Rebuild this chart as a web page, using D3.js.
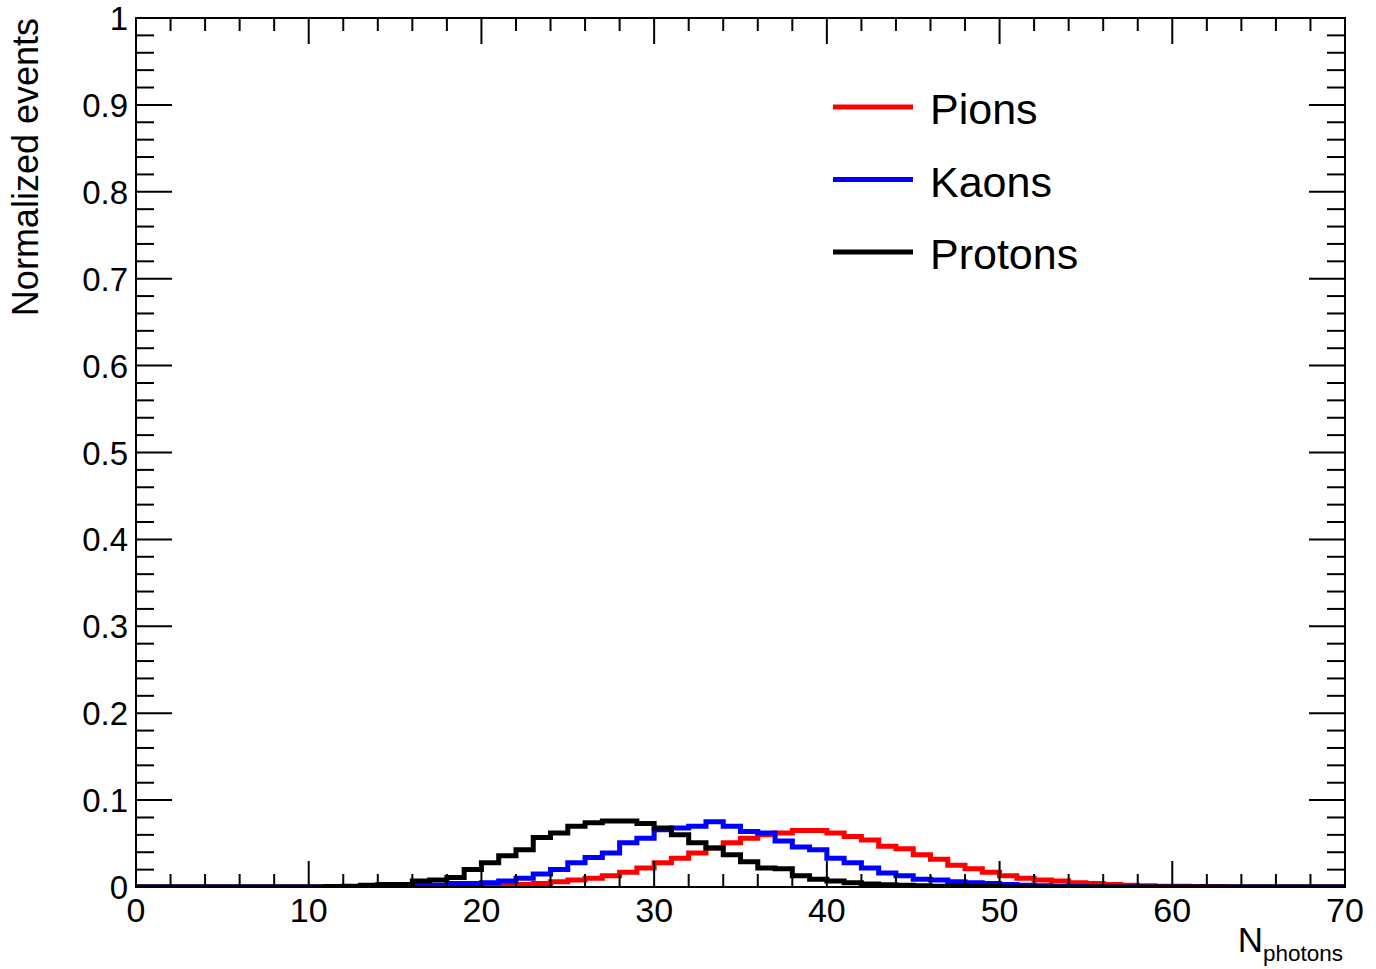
<!DOCTYPE html>
<html>
<head>
<meta charset="utf-8">
<script src="https://cdn.jsdelivr.net/npm/d3@7"></script>
<style>
  body { margin: 0; background: #fff; }
  svg { display: block; }
  text { font-family: "Liberation Sans", Arial, Helvetica, sans-serif; fill: #000; }
</style>
</head>
<body>
<svg id="chart" width="1376" height="969"></svg>
<script>
// bin contents, one value per unit bin from 0 to 70
var pions = [
  0, 0, 0, 0, 0, 0, 0, 0, 0, 0,
  0, 0, 0, 0, 0, 0, 0, 0, 0.0005, 0.001,
  0.001, 0.002, 0.003, 0.004, 0.006, 0.008, 0.010, 0.013, 0.017, 0.022,
  0.028, 0.033, 0.039, 0.045, 0.051, 0.056, 0.060, 0.062, 0.065, 0.065,
  0.062, 0.058, 0.054, 0.047, 0.044, 0.037, 0.032, 0.025, 0.021, 0.017,
  0.013, 0.010, 0.008, 0.007, 0.005, 0.004, 0.003, 0.002, 0.0015, 0.001,
  0.001, 0.0005, 0.0005, 0, 0, 0, 0, 0, 0, 0
];
var kaons = [
  0, 0, 0, 0, 0, 0, 0, 0, 0, 0,
  0, 0, 0, 0, 0.0005, 0.001, 0.002, 0.002, 0.004, 0.004,
  0.005, 0.007, 0.010, 0.015, 0.020, 0.028, 0.034, 0.039, 0.051, 0.056,
  0.066, 0.068, 0.070, 0.075, 0.070, 0.064, 0.062, 0.053, 0.046, 0.043,
  0.033, 0.028, 0.022, 0.016, 0.013, 0.009, 0.008, 0.006, 0.005, 0.004,
  0.003, 0.002, 0.0015, 0.001, 0.0005, 0, 0, 0, 0, 0,
  0, 0, 0, 0, 0, 0, 0, 0, 0, 0
];
var protons = [
  0, 0, 0, 0, 0, 0, 0, 0, 0, 0,
  0, 0.0005, 0.001, 0.002, 0.003, 0.003, 0.007, 0.008, 0.011, 0.020,
  0.028, 0.036, 0.043, 0.057, 0.062, 0.070, 0.074, 0.076, 0.076, 0.073,
  0.068, 0.060, 0.051, 0.045, 0.037, 0.029, 0.022, 0.021, 0.013, 0.009,
  0.007, 0.005, 0.0035, 0.0025, 0.002, 0.0015, 0.001, 0.001, 0.0005, 0.0005,
  0, 0, 0, 0, 0, 0, 0, 0, 0, 0,
  0, 0, 0, 0, 0, 0, 0, 0, 0, 0
];
var seriesNames = ["Pions", "Kaons", "Protons"];
var seriesColors = ["#ff0000", "#0000ff", "#000000"];
var xTickLabels = [0, 10, 20, 30, 40, 50, 60, 70];
var yTickLabels = ["0", "0.1", "0.2", "0.3", "0.4", "0.5", "0.6", "0.7", "0.8", "0.9", "1"];

var svg = d3.select("#chart");
var frame = {left: 136, right: 1345, top: 18, bottom: 887};

var x = d3.scaleLinear().domain([0, 70]).range([frame.left, frame.right]);
var y = d3.scaleLinear().domain([0, 1]).range([frame.bottom, frame.top]);

svg.append("clipPath").attr("id", "frameclip")
   .append("rect")
   .attr("x", frame.left).attr("y", frame.top)
   .attr("width", frame.right - frame.left)
   .attr("height", frame.bottom - frame.top);

// step line for a histogram
var step = d3.line()
             .x(function(d) { return x(d[0]); })
             .y(function(d) { return y(d[1]); })
             .curve(d3.curveStepAfter);

function binPoints(values) {
  var pts = values.map(function(v, i) { return [i, v]; });
  pts.push([values.length, values[values.length - 1]]);
  return pts;
}

var hists = svg.append("g").attr("clip-path", "url(#frameclip)");
[pions, kaons, protons].forEach(function(vals, i) {
  hists.append("path")
       .datum(binPoints(vals))
       .attr("d", step)
       .attr("fill", "none")
       .attr("stroke", seriesColors[i])
       .attr("stroke-width", 5);
});

// frame and ticks (ROOT style, inward on all four sides)
var axes = svg.append("g").attr("stroke", "#000").attr("stroke-width", 2);
axes.append("rect")
    .attr("x", frame.left).attr("y", frame.top)
    .attr("width", frame.right - frame.left)
    .attr("height", frame.bottom - frame.top)
    .attr("fill", "none");

d3.range(0, 70.001, 2).forEach(function(v) {
  var len = (v % 10 === 0) ? 26 : 13;
  axes.append("line").attr("x1", x(v)).attr("x2", x(v))
      .attr("y1", frame.bottom).attr("y2", frame.bottom - len);
  axes.append("line").attr("x1", x(v)).attr("x2", x(v))
      .attr("y1", frame.top).attr("y2", frame.top + len);
});

d3.range(0, 50.5, 1).forEach(function(k) {
  var v = k / 50;
  var len = (k % 5 === 0) ? 36 : 18;
  axes.append("line").attr("y1", y(v)).attr("y2", y(v))
      .attr("x1", frame.left).attr("x2", frame.left + len);
  axes.append("line").attr("y1", y(v)).attr("y2", y(v))
      .attr("x1", frame.right).attr("x2", frame.right - len);
});

// tick labels
svg.selectAll(".xlab")
   .data(xTickLabels)
   .enter().append("text")
   .attr("class", "xlab")
   .attr("x", function(d) { return x(d); })
   .attr("y", 922)
   .attr("text-anchor", "middle")
   .attr("font-size", 34)
   .text(function(d) { return d; });

svg.selectAll(".ylab")
   .data(yTickLabels)
   .enter().append("text")
   .attr("class", "ylab")
   .attr("x", 128)
   .attr("y", function(d) { return y(+d) + 12; })
   .attr("text-anchor", "end")
   .attr("font-size", 33)
   .text(function(d) { return d; });

// axis titles
svg.append("text")
   .attr("transform", "translate(38," + frame.top + ") rotate(-90)")
   .attr("text-anchor", "end")
   .attr("font-size", 36)
   .text("Normalized events");

var xt = svg.append("text")
            .attr("x", frame.right - 2)
            .attr("y", 952)
            .attr("text-anchor", "end");
xt.append("tspan").attr("font-size", 35).text("N");
xt.append("tspan").attr("font-size", 22.5).attr("dy", 9).text("photons");

// legend
var legend = svg.selectAll(".legend")
                .data(seriesNames)
                .enter().append("g")
                .attr("class", "legend")
                .attr("transform", function(d, i) { return "translate(0," + (107 + i * 72.5) + ")"; });
legend.append("line")
      .attr("x1", 833).attr("x2", 913)
      .attr("stroke", function(d, i) { return seriesColors[i]; })
      .attr("stroke-width", 5);
legend.append("text")
      .attr("x", 930).attr("y", 17)
      .attr("font-size", 43)
      .text(function(d) { return d; });
</script>
</body>
</html>
